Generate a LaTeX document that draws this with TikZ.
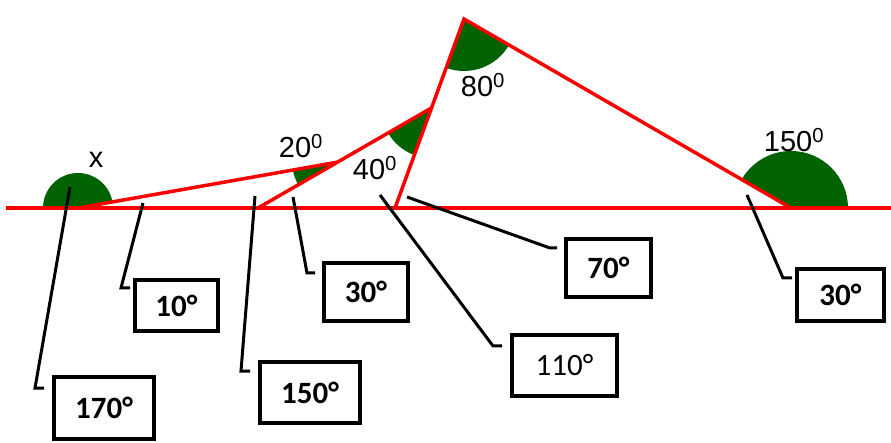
\documentclass[tikz,border=0pt]{standalone}
\usepackage{fontspec}
\setmainfont{Liberation Sans}
\newfontfamily\boxfont{Carlito}
\definecolor{angred}{RGB}{250,0,0}
\definecolor{anggreen}{RGB}{0,98,0}
\begin{document}
\begin{tikzpicture}[x=1pt,y=1pt,
  redline/.style={draw=angred,line width=3.5pt},
  sector/.style={fill=anggreen},
  leader/.style={draw=black,line width=3pt},
  anglabel/.style={inner sep=0pt,anchor=base,font=\fontsize{29}{32}\selectfont},
  ansbox/.style={draw=black,line width=4pt,inner sep=0pt,anchor=center,font=\boxfont\bfseries\fontsize{31}{33}\selectfont},
  ansboxreg/.style={ansbox,font=\boxfont\fontsize{31}{33}\selectfont}]
\useasboundingbox (0,0) rectangle (891,-443);
% vertices
\coordinate (A) at (78,-208);
\coordinate (B) at (258,-208);
\coordinate (D) at (337.2,-162.2);
\coordinate (C) at (431.4,-108);
\coordinate (E) at (395,-208);
\coordinate (F) at (464,-19);
\coordinate (G) at (791,-208);
\coordinate (L0) at (6,-208);
\coordinate (L1) at (891,-208);
% green sectors
\fill[sector] (A) -- ++(10:35) arc (10:180:35) -- cycle;
\fill[sector] (D) -- ++(190:45) arc (190:210:45) -- cycle;
\fill[sector] (C) -- ++(210:50) arc (210:250:50) -- cycle;
\fill[sector] (F) -- ++(250:52) arc (250:330:52) -- cycle;
\fill[sector] (G) -- ++(0:57) arc (0:150:57) -- cycle;
% red lines
\draw[redline] (L0) -- (L1);
\draw[redline] (A) -- (D);
\draw[redline] (B) -- (C);
\draw[redline] (E) -- (F) -- (G);
% angle labels
\node[anglabel] (lx) at (96,-168) {x};
\node[anglabel] (l20) at (301,-158) {20\textsuperscript{0}};
\node[anglabel] (l40) at (375,-180) {40\textsuperscript{0}};
\node[anglabel] (l80) at (483,-97) {80\textsuperscript{0}};
\node[anglabel] (l150) at (794,-152) {150\textsuperscript{0}};
% answer boxes
\node[ansbox,minimum width=83pt,minimum height=51pt] (b10) at (176.5,-305.5) {10°};
\node[ansbox,minimum width=100pt,minimum height=62pt] (b170) at (104,-408) {170°};
\node[ansbox,minimum width=100pt,minimum height=61pt] (b150) at (310,-392.5) {150°};
\node[ansbox,minimum width=84pt,minimum height=58pt] (b30a) at (366,-292) {30°};
\node[ansbox,minimum width=85pt,minimum height=58pt] (b70) at (608.5,-268) {70°};
\node[ansboxreg,minimum width=105pt,minimum height=61pt] (b110) at (564.5,-365.5) {110°};
\node[ansbox,minimum width=87pt,minimum height=52pt] (b30b) at (840.5,-295) {30°};
% leader lines
\coordinate (t170) at (70,-187);  \coordinate (k170) at (35,-388);  \coordinate (f170) at (44,-388);
\coordinate (t10) at (143,-203);  \coordinate (k10) at (121,-288);  \coordinate (f10) at (130,-288);
\coordinate (t150) at (255,-196); \coordinate (k150) at (241,-371); \coordinate (f150) at (250,-371);
\coordinate (t30a) at (293,-197); \coordinate (k30a) at (307,-273); \coordinate (f30a) at (315,-273);
\coordinate (t110) at (380,-195); \coordinate (k110) at (493,-346); \coordinate (f110) at (502,-346);
\coordinate (t70) at (407,-197);  \coordinate (k70) at (550,-248);  \coordinate (f70) at (557,-248);
\coordinate (t30b) at (747,-195); \coordinate (k30b) at (783,-278); \coordinate (f30b) at (792,-278);
\draw[leader] (t170) -- (k170) -- (f170);
\draw[leader] (t10) -- (k10) -- (f10);
\draw[leader] (t150) -- (k150) -- (f150);
\draw[leader] (t30a) -- (k30a) -- (f30a);
\draw[leader] (t110) -- (k110) -- (f110);
\draw[leader] (t70) -- (k70) -- (f70);
\draw[leader] (t30b) -- (k30b) -- (f30b);
\end{tikzpicture}
\end{document}
